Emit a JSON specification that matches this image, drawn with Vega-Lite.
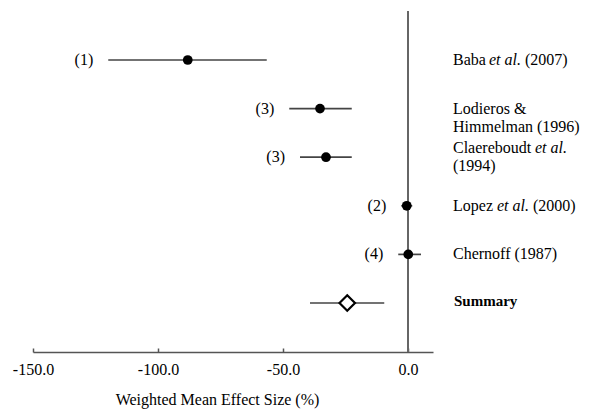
{
  "$schema": "https://vega.github.io/schema/vega-lite/v6.json",
  "width": 400,
  "height": 341,
  "autosize": "none",
  "padding": {"left": 33, "top": 11, "right": 159, "bottom": 59},
  "config": {"view": {"stroke": null}, "font": "Liberation Serif"},
  "data": {
    "values": [
      {"study": "Baba", "label": ["Baba et al. (2007)"], "pre": "Baba", "it": "et al.", "post": "(2007)", "n": "(1)", "est": -88.1, "lo": -119.9, "hi": -56.5, "kind": "study"},
      {"study": "Lodieros", "label": ["Lodieros &", "Himmelman (1996)"], "pre": "", "it": "", "post": "", "n": "(3)", "est": -35.2, "lo": -47.5, "hi": -22.5, "kind": "study"},
      {"study": "Claereboudt", "label": ["Claereboudt et al.", "(1994)"], "pre": "Claereboudt", "it": "et al.", "post": "(1994)", "n": "(3)", "est": -32.8, "lo": -43.2, "hi": -22.5, "kind": "study"},
      {"study": "Lopez", "label": ["Lopez et al. (2000)"], "pre": "Lopez", "it": "et al.", "post": "(2000)", "n": "(2)", "est": -0.5, "lo": -2.7, "hi": 1.7, "kind": "study"},
      {"study": "Chernoff", "label": ["Chernoff (1987)"], "pre": "", "it": "", "post": "", "n": "(4)", "est": 0.1, "lo": -3.9, "hi": 5.2, "kind": "study"},
      {"study": "Summary", "label": ["Summary"], "pre": "", "it": "", "post": "", "n": "", "est": -24.3, "lo": -39.2, "hi": -9.5, "kind": "summary"}
    ]
  },
  "encoding": {
    "y": {
      "field": "study",
      "type": "nominal",
      "sort": null,
      "scale": {"type": "point", "domain": ["Baba", "Lodieros", "Claereboudt", "Lopez", "Chernoff", "Summary"], "range": [49, 292], "padding": 0},
      "axis": null
    }
  },
  "layer": [
    {
      "data": {"values": [{"v": 0}]},
      "mark": {"type": "rule", "color": "#666666", "strokeWidth": 2},
      "encoding": {"x": {"field": "v", "type": "quantitative"}, "y": null}
    },
    {
      "mark": {"type": "rule", "color": "#444444", "strokeWidth": 1.7},
      "encoding": {
        "x": {
          "field": "lo",
          "type": "quantitative",
          "scale": {"domain": [-150, 10], "nice": false, "zero": false},
          "axis": {
            "title": "Weighted Mean Effect Size (%)",
            "values": [-150, -100, -50, 0],
            "labelExpr": "datum.value == 0 ? '0.0' : datum.value + '.0'",
            "labelFlush": false,
            "grid": false,
            "tickSize": -4,
            "tickColor": "#555555",
            "domainColor": "#555555",
            "domainWidth": 1.5,
            "tickWidth": 1.5,
            "labelPadding": 13,
            "labelFont": "Liberation Serif",
            "labelFontSize": 16,
            "labelColor": "black",
            "titleFont": "Liberation Serif",
            "titleFontSize": 16,
            "titleFontWeight": "normal",
            "titleColor": "black",
            "titlePadding": 14,
            "titleX": 184,
            "titleAlign": "center",
            "titleAnchor": "start"
          }
        },
        "x2": {"field": "hi"}
      }
    },
    {
      "transform": [{"filter": "datum.kind == 'study'"}],
      "mark": {"type": "point", "shape": "circle", "filled": true, "color": "black", "size": 95, "opacity": 1},
      "encoding": {"x": {"field": "est", "type": "quantitative"}}
    },
    {
      "transform": [{"filter": "datum.kind == 'summary'"}],
      "mark": {"type": "point", "shape": "diamond", "filled": true, "fill": "white", "stroke": "black", "strokeWidth": 2.2, "size": 240, "opacity": 1},
      "encoding": {"x": {"field": "est", "type": "quantitative"}}
    },
    {
      "mark": {"type": "text", "align": "right", "baseline": "middle", "dx": -15, "fontSize": 16, "font": "Liberation Serif", "color": "black"},
      "encoding": {"x": {"field": "lo", "type": "quantitative"}, "text": {"field": "n"}}
    },
    {
      "transform": [{"filter": "datum.study == 'Lodieros' || datum.study == 'Chernoff'"}],
      "mark": {"type": "text", "align": "left", "baseline": "middle", "dx": 45, "fontSize": 16, "lineHeight": 18.5, "font": "Liberation Serif", "color": "black"},
      "encoding": {"x": {"datum": 0, "type": "quantitative"}, "text": {"field": "label"}}
    },
    {
      "transform": [{"filter": "datum.study == 'Baba' || datum.study == 'Lopez'"}],
      "mark": {"type": "text", "align": "left", "baseline": "middle", "dx": 45, "fontSize": 16, "font": "Liberation Serif", "color": "black"},
      "encoding": {"x": {"datum": 0, "type": "quantitative"}, "text": {"field": "pre"}}
    },
    {
      "transform": [{"filter": "datum.study == 'Baba'"}],
      "mark": {"type": "text", "align": "left", "baseline": "middle", "dx": 81, "fontSize": 16, "fontStyle": "italic", "font": "Liberation Serif", "color": "black"},
      "encoding": {"x": {"datum": 0, "type": "quantitative"}, "text": {"field": "it"}}
    },
    {
      "transform": [{"filter": "datum.study == 'Baba'"}],
      "mark": {"type": "text", "align": "left", "baseline": "middle", "dx": 117, "fontSize": 16, "font": "Liberation Serif", "color": "black"},
      "encoding": {"x": {"datum": 0, "type": "quantitative"}, "text": {"field": "post"}}
    },
    {
      "transform": [{"filter": "datum.study == 'Lopez'"}],
      "mark": {"type": "text", "align": "left", "baseline": "middle", "dx": 89, "fontSize": 16, "fontStyle": "italic", "font": "Liberation Serif", "color": "black"},
      "encoding": {"x": {"datum": 0, "type": "quantitative"}, "text": {"field": "it"}}
    },
    {
      "transform": [{"filter": "datum.study == 'Lopez'"}],
      "mark": {"type": "text", "align": "left", "baseline": "middle", "dx": 125, "fontSize": 16, "font": "Liberation Serif", "color": "black"},
      "encoding": {"x": {"datum": 0, "type": "quantitative"}, "text": {"field": "post"}}
    },
    {
      "transform": [{"filter": "datum.study == 'Claereboudt'"}],
      "mark": {"type": "text", "align": "left", "baseline": "middle", "dx": 45, "dy": -9.25, "fontSize": 16, "font": "Liberation Serif", "color": "black"},
      "encoding": {"x": {"datum": 0, "type": "quantitative"}, "text": {"field": "pre"}}
    },
    {
      "transform": [{"filter": "datum.study == 'Claereboudt'"}],
      "mark": {"type": "text", "align": "left", "baseline": "middle", "dx": 127, "dy": -9.25, "fontSize": 16, "fontStyle": "italic", "font": "Liberation Serif", "color": "black"},
      "encoding": {"x": {"datum": 0, "type": "quantitative"}, "text": {"field": "it"}}
    },
    {
      "transform": [{"filter": "datum.study == 'Claereboudt'"}],
      "mark": {"type": "text", "align": "left", "baseline": "middle", "dx": 45, "dy": 9.25, "fontSize": 16, "font": "Liberation Serif", "color": "black"},
      "encoding": {"x": {"datum": 0, "type": "quantitative"}, "text": {"field": "post"}}
    },
    {
      "transform": [{"filter": "datum.kind == 'summary'"}],
      "mark": {"type": "text", "align": "left", "baseline": "middle", "dx": 46, "dy": -2, "fontSize": 15, "fontWeight": "bold", "font": "Liberation Serif", "color": "black"},
      "encoding": {"x": {"datum": 0, "type": "quantitative"}, "text": {"field": "label"}}
    }
  ]
}
